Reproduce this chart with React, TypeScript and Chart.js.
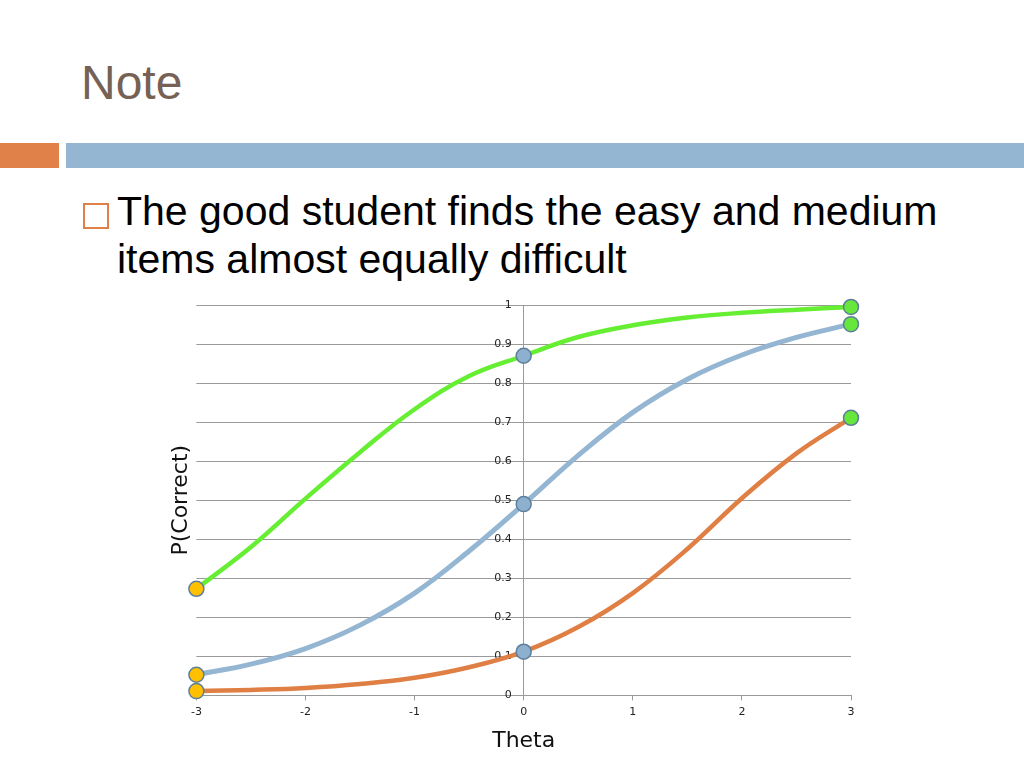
import React, { useEffect, useRef } from 'react';
import { Chart, registerables } from 'chart.js';

Chart.register(...registerables);

// theta grid the curves were read at
const thetaValues = [-3, -2.5, -2, -1.5, -1, -0.5, 0, 0.5, 1, 1.5, 2, 2.5, 3];
// P(correct) for the three items
const easyItem = [0.273, 0.38, 0.504, 0.623, 0.733, 0.818, 0.87, 0.918, 0.948, 0.968, 0.98, 0.988, 0.995];
const mediumItem = [0.053, 0.08, 0.12, 0.18, 0.262, 0.37, 0.49, 0.615, 0.725, 0.81, 0.872, 0.917, 0.951];
const hardItem = [0.011, 0.014, 0.019, 0.029, 0.045, 0.072, 0.112, 0.175, 0.262, 0.375, 0.505, 0.62, 0.711];

// where the circles sit, and their fill
const markerThetas = [-3, 0, 3];
const markerFills = ['#FFC000', '#8EB0CF', '#67E63C'];

const xTickLabels = ['-3', '-2', '-1', '0', '1', '2', '3'];
const yTickLabels = ['0', '0.1', '0.2', '0.3', '0.4', '0.5', '0.6', '0.7', '0.8', '0.9', '1'];

const GRID = '#9a9a9a';
const TICK_FONT = { family: '"DejaVu Sans", sans-serif', size: 11 };
const TITLE_FONT = { family: '"DejaVu Sans", sans-serif', size: 22 };

function makeDataset(label: string, values: number[], color: string, width: number) {
  return {
    label,
    data: thetaValues.map((t, i) => ({ x: t, y: values[i] })),
    borderColor: color,
    backgroundColor: color,
    borderWidth: width,
    fill: false,
    tension: 0.4,
    clip: false as const,
    pointRadius: (ctx: any) => (markerThetas.includes(thetaValues[ctx.dataIndex]) ? 7.5 : 0),
    pointHoverRadius: (ctx: any) => (markerThetas.includes(thetaValues[ctx.dataIndex]) ? 7.5 : 0),
    pointBackgroundColor: (ctx: any) => {
      const k = markerThetas.indexOf(thetaValues[ctx.dataIndex]);
      return k >= 0 ? markerFills[k] : color;
    },
    pointBorderColor: '#5E7F9B',
    pointBorderWidth: 1.5,
  };
}

function IrtChart() {
  const canvasRef = useRef<HTMLCanvasElement>(null);

  useEffect(() => {
    if (!canvasRef.current) return;
    const chart = new Chart(canvasRef.current, {
      type: 'line',
      data: {
        // first dataset is painted last (on top)
        datasets: [
          makeDataset('Hard', hardItem, '#E07F44', 4.5),
          makeDataset('Medium', mediumItem, '#94B6D2', 5),
          makeDataset('Easy', easyItem, '#66EE33', 4.5),
        ],
      },
      options: {
        animation: false,
        responsive: true,
        maintainAspectRatio: false,
        layout: { padding: { left: 14, right: 19, top: 15, bottom: 4 } },
        plugins: {
          legend: { display: false },
          tooltip: { enabled: false },
        },
        scales: {
          x: {
            type: 'linear',
            min: -3,
            max: 3,
            ticks: {
              stepSize: 1,
              padding: 5,
              color: '#222',
              font: TICK_FONT,
              callback: (_v, i) => xTickLabels[i],
            },
            grid: {
              color: (ctx: any) => (ctx.tick && ctx.tick.value === 0 ? GRID : 'rgba(0,0,0,0)'),
              tickColor: GRID,
              tickLength: 5,
              lineWidth: 1,
            },
            border: { display: true, color: GRID },
            title: {
              display: true,
              text: 'Theta',
              color: '#111',
              font: TITLE_FONT,
              padding: { top: 4, bottom: 2 },
            },
          },
          y: {
            type: 'linear',
            position: { x: -0.11 } as any,
            min: 0,
            max: 1,
            ticks: {
              stepSize: 0.1,
              color: '#222',
              font: TICK_FONT,
              callback: (_v, i) => yTickLabels[i],
            },
            grid: { color: GRID, lineWidth: 1, drawTicks: false },
            border: { display: false },
          },
          yTitle: {
            type: 'linear',
            position: 'left',
            min: 0,
            max: 1,
            ticks: { display: false },
            grid: { display: false },
            border: { display: false },
            title: {
              display: true,
              text: 'P(Correct)',
              color: '#111',
              font: TITLE_FONT,
              padding: { top: 4, bottom: -6 },
            },
          },
        },
      },
    });
    return () => chart.destroy();
  }, []);

  return (
    <div style={{ position: 'absolute', left: 150, top: 290, width: 720, height: 470 }}>
      <canvas ref={canvasRef} />
    </div>
  );
}

export default function App() {
  return (
    <div
      style={{
        position: 'fixed',
        left: 0,
        top: 0,
        width: 1024,
        height: 768,
        background: '#fff',
        overflow: 'hidden',
        fontFamily: '"Liberation Sans", Arial, sans-serif',
      }}
    >
      <div
        style={{
          position: 'absolute',
          left: 81,
          top: 59,
          fontSize: 48,
          lineHeight: '48px',
          color: '#766155',
        }}
      >
        Note
      </div>
      <div style={{ position: 'absolute', left: 0, top: 143, width: 59, height: 25, background: '#E0814A' }} />
      <div style={{ position: 'absolute', left: 66, top: 143, width: 958, height: 25, background: '#94B6D2' }} />
      <div
        style={{
          position: 'absolute',
          left: 83,
          top: 203,
          width: 26,
          height: 26,
          boxSizing: 'border-box',
          border: '2px solid #E0814A',
        }}
      />
      <div
        style={{
          position: 'absolute',
          left: 117,
          top: 187,
          width: 860,
          fontSize: 41,
          lineHeight: '48px',
          color: '#000',
        }}
      >
        The good student finds the easy and medium items almost equally difficult
      </div>
      <IrtChart />
    </div>
  );
}
